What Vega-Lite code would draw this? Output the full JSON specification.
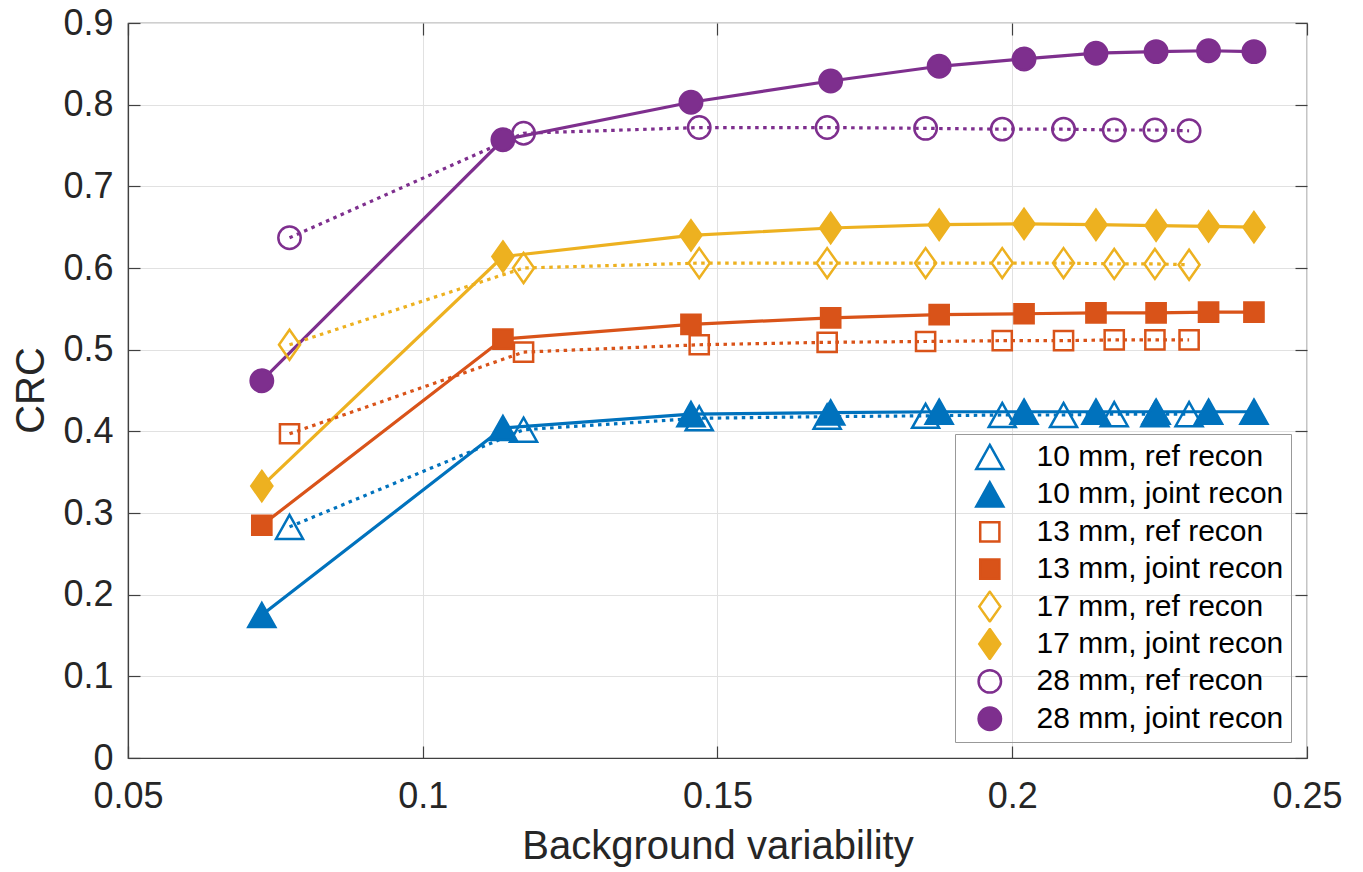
{
  "$schema": "https://vega.github.io/schema/vega-lite/v6.json",
  "width": 1179,
  "height": 735,
  "autosize": {"type": "none"},
  "padding": {"left": 128, "top": 23, "right": 56, "bottom": 114},
  "background": "white",
  "config": {
    "font": "Liberation Sans",
    "view": {"stroke": "#404040", "strokeWidth": 1.2}
  },
  "data": {
    "values": [
      {"series": "10 mm, ref recon", "bv": 0.0774, "crc": 0.283},
      {"series": "10 mm, ref recon", "bv": 0.1171, "crc": 0.402},
      {"series": "10 mm, ref recon", "bv": 0.1469, "crc": 0.416},
      {"series": "10 mm, ref recon", "bv": 0.1686, "crc": 0.418},
      {"series": "10 mm, ref recon", "bv": 0.1853, "crc": 0.419},
      {"series": "10 mm, ref recon", "bv": 0.1983, "crc": 0.420},
      {"series": "10 mm, ref recon", "bv": 0.2087, "crc": 0.420},
      {"series": "10 mm, ref recon", "bv": 0.2173, "crc": 0.421},
      {"series": "10 mm, ref recon", "bv": 0.2242, "crc": 0.421},
      {"series": "10 mm, ref recon", "bv": 0.2300, "crc": 0.421},
      {"series": "10 mm, joint recon", "bv": 0.0727, "crc": 0.175},
      {"series": "10 mm, joint recon", "bv": 0.1136, "crc": 0.404},
      {"series": "10 mm, joint recon", "bv": 0.1455, "crc": 0.421},
      {"series": "10 mm, joint recon", "bv": 0.1692, "crc": 0.423},
      {"series": "10 mm, joint recon", "bv": 0.1876, "crc": 0.424},
      {"series": "10 mm, joint recon", "bv": 0.2020, "crc": 0.424},
      {"series": "10 mm, joint recon", "bv": 0.2142, "crc": 0.424},
      {"series": "10 mm, joint recon", "bv": 0.2244, "crc": 0.424},
      {"series": "10 mm, joint recon", "bv": 0.2333, "crc": 0.424},
      {"series": "10 mm, joint recon", "bv": 0.2410, "crc": 0.424},
      {"series": "13 mm, ref recon", "bv": 0.0774, "crc": 0.397},
      {"series": "13 mm, ref recon", "bv": 0.1171, "crc": 0.497},
      {"series": "13 mm, ref recon", "bv": 0.1469, "crc": 0.506},
      {"series": "13 mm, ref recon", "bv": 0.1686, "crc": 0.509},
      {"series": "13 mm, ref recon", "bv": 0.1853, "crc": 0.510},
      {"series": "13 mm, ref recon", "bv": 0.1983, "crc": 0.511},
      {"series": "13 mm, ref recon", "bv": 0.2087, "crc": 0.511},
      {"series": "13 mm, ref recon", "bv": 0.2173, "crc": 0.512},
      {"series": "13 mm, ref recon", "bv": 0.2242, "crc": 0.512},
      {"series": "13 mm, ref recon", "bv": 0.2300, "crc": 0.512},
      {"series": "13 mm, joint recon", "bv": 0.0727, "crc": 0.285},
      {"series": "13 mm, joint recon", "bv": 0.1136, "crc": 0.513},
      {"series": "13 mm, joint recon", "bv": 0.1455, "crc": 0.531},
      {"series": "13 mm, joint recon", "bv": 0.1692, "crc": 0.539},
      {"series": "13 mm, joint recon", "bv": 0.1876, "crc": 0.543},
      {"series": "13 mm, joint recon", "bv": 0.2020, "crc": 0.544},
      {"series": "13 mm, joint recon", "bv": 0.2142, "crc": 0.545},
      {"series": "13 mm, joint recon", "bv": 0.2244, "crc": 0.545},
      {"series": "13 mm, joint recon", "bv": 0.2333, "crc": 0.546},
      {"series": "13 mm, joint recon", "bv": 0.2410, "crc": 0.546},
      {"series": "17 mm, ref recon", "bv": 0.0774, "crc": 0.506},
      {"series": "17 mm, ref recon", "bv": 0.1171, "crc": 0.600},
      {"series": "17 mm, ref recon", "bv": 0.1469, "crc": 0.606},
      {"series": "17 mm, ref recon", "bv": 0.1686, "crc": 0.606},
      {"series": "17 mm, ref recon", "bv": 0.1853, "crc": 0.606},
      {"series": "17 mm, ref recon", "bv": 0.1983, "crc": 0.606},
      {"series": "17 mm, ref recon", "bv": 0.2087, "crc": 0.606},
      {"series": "17 mm, ref recon", "bv": 0.2173, "crc": 0.605},
      {"series": "17 mm, ref recon", "bv": 0.2242, "crc": 0.605},
      {"series": "17 mm, ref recon", "bv": 0.2300, "crc": 0.604},
      {"series": "17 mm, joint recon", "bv": 0.0727, "crc": 0.333},
      {"series": "17 mm, joint recon", "bv": 0.1136, "crc": 0.614},
      {"series": "17 mm, joint recon", "bv": 0.1455, "crc": 0.640},
      {"series": "17 mm, joint recon", "bv": 0.1692, "crc": 0.649},
      {"series": "17 mm, joint recon", "bv": 0.1876, "crc": 0.653},
      {"series": "17 mm, joint recon", "bv": 0.2020, "crc": 0.654},
      {"series": "17 mm, joint recon", "bv": 0.2142, "crc": 0.653},
      {"series": "17 mm, joint recon", "bv": 0.2244, "crc": 0.652},
      {"series": "17 mm, joint recon", "bv": 0.2333, "crc": 0.651},
      {"series": "17 mm, joint recon", "bv": 0.2410, "crc": 0.650},
      {"series": "28 mm, ref recon", "bv": 0.0774, "crc": 0.637},
      {"series": "28 mm, ref recon", "bv": 0.1171, "crc": 0.765},
      {"series": "28 mm, ref recon", "bv": 0.1469, "crc": 0.772},
      {"series": "28 mm, ref recon", "bv": 0.1686, "crc": 0.772},
      {"series": "28 mm, ref recon", "bv": 0.1853, "crc": 0.771},
      {"series": "28 mm, ref recon", "bv": 0.1983, "crc": 0.770},
      {"series": "28 mm, ref recon", "bv": 0.2087, "crc": 0.770},
      {"series": "28 mm, ref recon", "bv": 0.2173, "crc": 0.769},
      {"series": "28 mm, ref recon", "bv": 0.2242, "crc": 0.769},
      {"series": "28 mm, ref recon", "bv": 0.2300, "crc": 0.768},
      {"series": "28 mm, joint recon", "bv": 0.0727, "crc": 0.462},
      {"series": "28 mm, joint recon", "bv": 0.1136, "crc": 0.757},
      {"series": "28 mm, joint recon", "bv": 0.1455, "crc": 0.803},
      {"series": "28 mm, joint recon", "bv": 0.1692, "crc": 0.829},
      {"series": "28 mm, joint recon", "bv": 0.1876, "crc": 0.847},
      {"series": "28 mm, joint recon", "bv": 0.2020, "crc": 0.856},
      {"series": "28 mm, joint recon", "bv": 0.2142, "crc": 0.863},
      {"series": "28 mm, joint recon", "bv": 0.2244, "crc": 0.865},
      {"series": "28 mm, joint recon", "bv": 0.2333, "crc": 0.866},
      {"series": "28 mm, joint recon", "bv": 0.2410, "crc": 0.865}
    ]
  },
  "layer": [
    {
      "transform": [{"filter": "indexof(datum.series, 'joint') >= 0"}],
      "mark": {"type": "line", "strokeWidth": 3.2},
      "encoding": {
        "x": {
          "field": "bv", "type": "quantitative",
          "scale": {"domain": [0.05, 0.25], "nice": false, "zero": false},
          "axis": {
            "orient": "bottom",
            "values": [0.05, 0.1, 0.15, 0.2, 0.25],
            "format": "~g",
            "title": "Background variability",
            "titleFontSize": 40, "titleFontWeight": "normal", "titleColor": "#262626",
            "titleY": 100, "titleBaseline": "alphabetic",
            "labelFontSize": 36, "labelColor": "#262626", "labelPadding": 33.6,
            "labelFlush": false, "labelOverlap": false,
            "tickSize": -12, "tickColor": "#404040", "tickWidth": 1.2,
            "domainColor": "#404040", "domainWidth": 1.2,
            "grid": true, "gridColor": "#e1e1e1", "gridWidth": 1
          }
        },
        "y": {
          "field": "crc", "type": "quantitative",
          "scale": {"domain": [0, 0.9], "nice": false},
          "axis": {
            "orient": "left",
            "values": [0, 0.1, 0.2, 0.3, 0.4, 0.5, 0.6, 0.7, 0.8, 0.9],
            "format": "~g",
            "title": "CRC",
            "titleFontSize": 40, "titleFontWeight": "normal", "titleColor": "#262626",
            "titleX": -85, "titleY": 367, "titleBaseline": "alphabetic", "titleAlign": "center",
            "labelFontSize": 36, "labelColor": "#262626", "labelPadding": 27,
            "labelFlush": false, "labelOverlap": false,
            "tickSize": -12, "tickColor": "#404040", "tickWidth": 1.2,
            "domainColor": "#404040", "domainWidth": 1.2,
            "grid": true, "gridColor": "#e1e1e1", "gridWidth": 1
          }
        },
        "color": {
          "field": "series", "type": "nominal",
          "scale": {
            "domain": ["10 mm, ref recon", "10 mm, joint recon", "13 mm, ref recon", "13 mm, joint recon", "17 mm, ref recon", "17 mm, joint recon", "28 mm, ref recon", "28 mm, joint recon"],
            "range": ["#0072BD", "#0072BD", "#D95319", "#D95319", "#EDB120", "#EDB120", "#7E2F8E", "#7E2F8E"]
          },
          "legend": {
            "title": null, "orient": "bottom-right", "offset": 16,
            "symbolSize": 729, "symbolStrokeWidth": 2.5, "symbolOpacity": 1,
            "symbolOffset": 12.8,
            "clipHeight": 32, "labelFontSize": 30, "labelColor": "#000000",
            "labelOffset": 31.7, "labelLimit": 400, "rowPadding": 5.4, "padding": 7,
            "strokeColor": "#999999", "zindex": 1
          }
        }
      }
    },
    {
      "transform": [{"filter": "indexof(datum.series, 'ref') >= 0"}],
      "mark": {"type": "line", "strokeWidth": 3.2, "strokeDash": [3.5, 4.5]},
      "encoding": {
        "x": {"field": "bv", "type": "quantitative", "axis": null},
        "y": {"field": "crc", "type": "quantitative", "axis": null},
        "color": {"field": "series", "type": "nominal", "legend": null}
      }
    },
    {
      "mark": {"type": "point", "filled": true, "opacity": 1, "size": 729, "strokeWidth": 2.5},
      "encoding": {
        "x": {
          "field": "bv", "type": "quantitative",
          "axis": {
            "orient": "top", "values": [0.05, 0.1, 0.15, 0.2, 0.25],
            "labels": false, "title": null, "domain": false, "grid": false,
            "tickSize": -12, "tickColor": "#404040", "tickWidth": 1.2
          }
        },
        "y": {
          "field": "crc", "type": "quantitative",
          "axis": {
            "orient": "right", "values": [0, 0.1, 0.2, 0.3, 0.4, 0.5, 0.6, 0.7, 0.8, 0.9],
            "labels": false, "title": null, "domain": false, "grid": false,
            "tickSize": -12, "tickColor": "#404040", "tickWidth": 1.2
          }
        },
        "shape": {
          "field": "series", "type": "nominal",
          "scale": {
            "domain": ["10 mm, ref recon", "10 mm, joint recon", "13 mm, ref recon", "13 mm, joint recon", "17 mm, ref recon", "17 mm, joint recon", "28 mm, ref recon", "28 mm, joint recon"],
            "range": [
              "M0,-0.89L1,0.89L-1,0.89Z",
              "M0,-0.89L1,0.89L-1,0.89Z",
              "M-0.71,-0.71L0.71,-0.71L0.71,0.71L-0.71,0.71Z",
              "M-0.71,-0.71L0.71,-0.71L0.71,0.71L-0.71,0.71Z",
              "M0,-1.11L0.78,0L0,1.11L-0.78,0Z",
              "M0,-1.11L0.78,0L0,1.11L-0.78,0Z",
              "M-0.83,0A0.83,0.83 0 1,0 0.83,0A0.83,0.83 0 1,0 -0.83,0Z",
              "M-0.83,0A0.83,0.83 0 1,0 0.83,0A0.83,0.83 0 1,0 -0.83,0Z"
            ]
          },
          "legend": null
        },
        "fill": {
          "field": "series", "type": "nominal",
          "scale": {
            "domain": ["10 mm, ref recon", "10 mm, joint recon", "13 mm, ref recon", "13 mm, joint recon", "17 mm, ref recon", "17 mm, joint recon", "28 mm, ref recon", "28 mm, joint recon"],
            "range": ["transparent", "#0072BD", "transparent", "#D95319", "transparent", "#EDB120", "transparent", "#7E2F8E"]
          },
          "legend": null
        },
        "stroke": {
          "field": "series", "type": "nominal",
          "scale": {
            "domain": ["10 mm, ref recon", "10 mm, joint recon", "13 mm, ref recon", "13 mm, joint recon", "17 mm, ref recon", "17 mm, joint recon", "28 mm, ref recon", "28 mm, joint recon"],
            "range": ["#0072BD", "#0072BD", "#D95319", "#D95319", "#EDB120", "#EDB120", "#7E2F8E", "#7E2F8E"]
          },
          "legend": null
        }
      }
    }
  ],
  "resolve": {"axis": {"x": "independent", "y": "independent"}}
}
